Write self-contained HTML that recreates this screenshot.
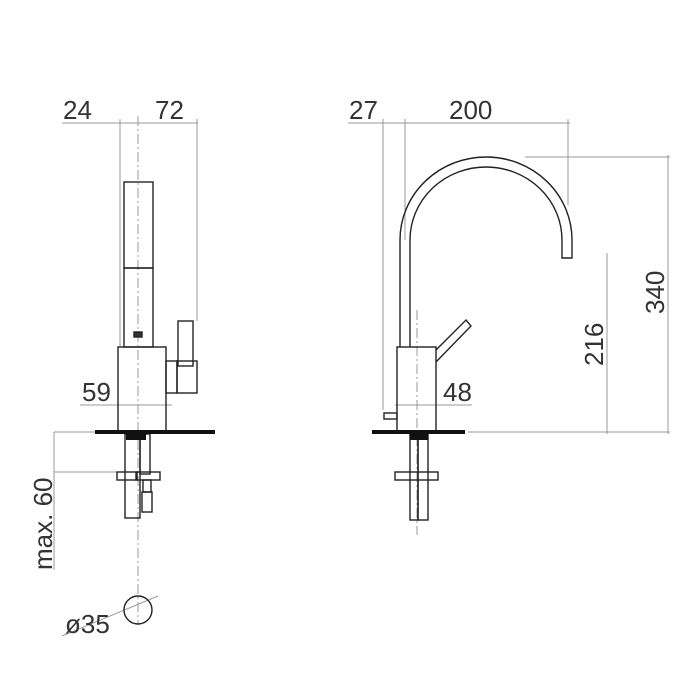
<!DOCTYPE html>
<html><head><style>
html,body{margin:0;padding:0;background:#fff;width:700px;height:700px;overflow:hidden}
svg{display:block}
text{font-family:"Liberation Sans",sans-serif;fill:#333;font-size:26px}
</style></head><body>
<svg width="700" height="700" viewBox="0 0 700 700" xmlns="http://www.w3.org/2000/svg">
<g fill="none" stroke="#999" stroke-width="1">
<line x1="62" y1="123" x2="198" y2="123"/>
<line x1="120" y1="119" x2="120" y2="347"/>
<line x1="197" y1="119" x2="197" y2="321"/>
<line x1="80" y1="405" x2="172" y2="405"/>
<line x1="54" y1="432" x2="95" y2="432"/>
<line x1="54" y1="472" x2="117" y2="472"/>
<line x1="54" y1="432" x2="54" y2="570"/>
<line x1="62" y1="636" x2="158" y2="596"/>
<line x1="348" y1="123" x2="570" y2="123"/>
<line x1="383" y1="119" x2="383" y2="410"/>
<line x1="405" y1="119" x2="405" y2="240"/>
<line x1="568" y1="119" x2="568" y2="205"/>
<line x1="525" y1="157" x2="670" y2="157"/>
<line x1="668" y1="155" x2="668" y2="434"/>
<line x1="607" y1="253" x2="607" y2="434"/>
<line x1="468" y1="432" x2="670" y2="432"/>
<line x1="395" y1="405" x2="472" y2="405"/>
</g>
<g stroke="#999" stroke-width="1" stroke-dasharray="10,3,2,3">
<line x1="138" y1="116" x2="138" y2="625"/>
<line x1="417" y1="310" x2="417" y2="535"/>
</g>
<g fill="none" stroke="#222" stroke-width="1.4">
<rect x="124" y="182" width="29" height="86"/>
<rect x="124" y="268" width="29" height="79"/>
<rect x="134" y="332" width="8" height="5" fill="#333"/>
<rect x="118" y="347" width="48" height="85"/>
<rect x="178" y="321" width="15" height="45"/>
<rect x="177" y="361" width="20" height="32"/>
<rect x="166" y="361" width="11" height="32"/>
<rect x="125" y="434" width="15" height="84"/>
<rect x="140" y="434" width="10" height="40"/>
<rect x="117" y="472" width="20" height="8"/>
<rect x="136" y="472" width="24" height="8"/>
<rect x="143" y="480" width="8" height="12"/>
<rect x="142" y="492" width="10" height="20"/>
<circle cx="138" cy="610" r="14"/>
<path d="M400 347 V240 A86 83 0 0 1 572 240 V258 H562 V240 A76 73 0 0 0 410 240 V347"/>
<rect x="397" y="347" width="39" height="85"/>
<path d="M436 350 L466 320 L471 326 L436 362"/>
<rect x="384" y="413" width="13" height="6"/>
<rect x="410" y="434" width="8" height="86"/>
<rect x="418" y="434" width="10" height="86"/>
<rect x="395" y="472" width="43" height="8"/>
</g>
<g fill="#111">
<rect x="95" y="430" width="120" height="4"/>
<rect x="372" y="430" width="93" height="4"/>
<rect x="126" y="434" width="20" height="6"/>
<rect x="410" y="434" width="18" height="6"/>
</g>
<text x="63" y="119">24</text>
<text x="155" y="119">72</text>
<text x="82" y="401">59</text>
<text x="349" y="119">27</text>
<text x="449" y="119">200</text>
<text x="443" y="401">48</text>
<text x="65" y="633">ø35</text>
<text transform="translate(52,570) rotate(-90)">max. 60</text>
<text transform="translate(603,366) rotate(-90)">216</text>
<text transform="translate(664,314) rotate(-90)">340</text>
</svg>
</body></html>
